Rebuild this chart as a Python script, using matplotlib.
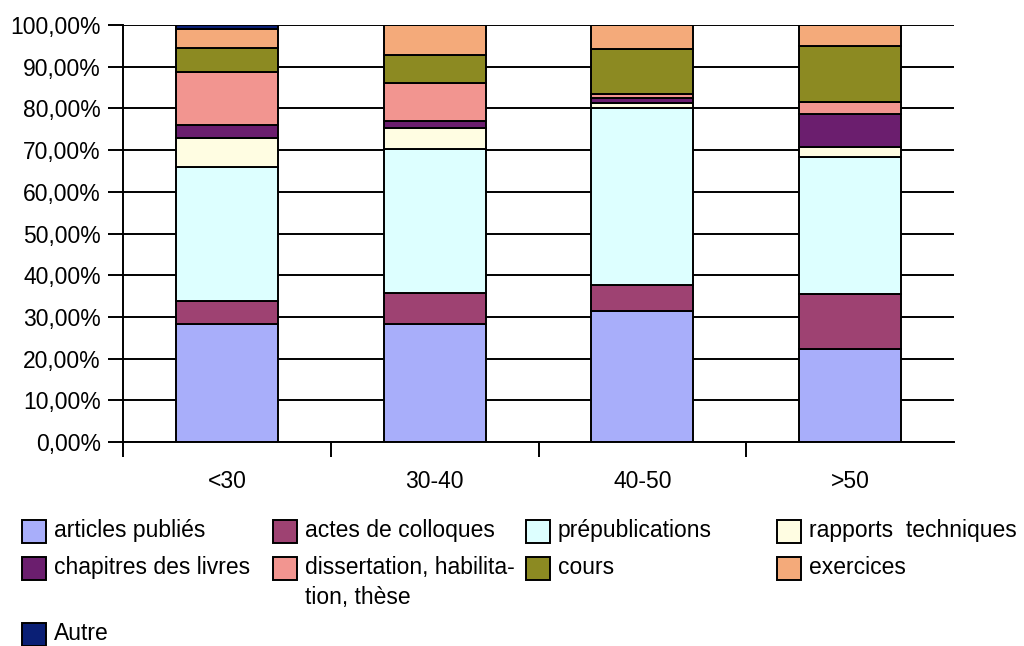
import matplotlib
matplotlib.use("Agg")
import matplotlib.pyplot as plt
from matplotlib.patches import Rectangle
from matplotlib.ticker import FixedLocator, FuncFormatter

plt.rcParams["font.family"] = ["Liberation Sans", "DejaVu Sans"]

# Données (en %)
groupes = ["<30", "30-40", "40-50", ">50"]
series = ["articles publiés", "actes de colloques", "prépublications",
          "rapports  techniques", "chapitres des livres",
          "dissertation, habilita-\ntion, thèse", "cours", "exercices", "Autre"]
articles = [28.3, 28.3, 31.4, 22.3]
actes = [5.5, 7.4, 6.2, 13.2]
prepub = [32.1, 34.5, 42.6, 32.9]
rapports = [7.1, 5.0, 1.0, 2.4]
chapitres = [2.9, 1.8, 1.2, 7.8]
dissertation = [12.9, 9.0, 1.0, 3.0]
cours = [5.6, 6.8, 10.8, 13.4]
exercices = [4.6, 7.2, 5.8, 5.0]
autre = [1.0, 0.0, 0.0, 0.0]
valeurs = [articles, actes, prepub, rapports, chapitres,
           dissertation, cours, exercices, autre]
couleurs = ["#A8AEFA", "#9E4272", "#DDFFFF", "#FFFDE2", "#6B1E6E",
            "#F29590", "#8C8A22", "#F4AA7A", "#0A1F75"]

FS = 16.5
W, H = 1024, 646
fig = plt.figure(figsize=(W / 100, H / 100), dpi=100)
ax = fig.add_axes([123 / W, 1 - 442 / H, (954 - 123) / W, (442 - 25) / H])

x = range(len(groupes))
bas = [0.0] * len(groupes)
for vals, col in zip(valeurs, couleurs):
    ax.bar(x, vals, width=0.49, bottom=bas, color=col, edgecolor="black",
           linewidth=1.4, zorder=3)
    bas = [b + v for b, v in zip(bas, vals)]

ax.set_xlim(-0.5, 3.5)
ax.set_ylim(0, 100)
ax.set_yticks(range(0, 101, 10))
ax.yaxis.set_major_formatter(FuncFormatter(lambda v, p: f"{v:.2f}%".replace(".", ",")))
ax.yaxis.grid(True, color="black", linewidth=1.4, zorder=0)
ax.tick_params(axis="y", direction="out", length=11, width=1.4, pad=5,
               labelsize=FS)

ax.set_xticks(list(x))
ax.set_xticklabels(groupes)
ax.tick_params(axis="x", which="major", length=0, pad=20, labelsize=FS)
ax.xaxis.set_minor_locator(FixedLocator([-0.5, 0.5, 1.5, 2.5]))
ax.tick_params(axis="x", which="minor", direction="out", length=11, width=1.4)

for s in ("top", "right"):
    ax.spines[s].set_visible(False)
for s in ("left", "bottom"):
    ax.spines[s].set_linewidth(1.4)
    ax.spines[s].set_zorder(4)

# Légende manuelle (4 colonnes, lignes alignées)
col_x = [22, 273, 526, 777]
row_y = [531, 568, 634]
places = [(0, 0), (0, 1), (0, 2), (0, 3), (1, 0), (1, 1), (1, 2), (1, 3), (2, 0)]
for lab, col, (r, c) in zip(series, couleurs, places):
    x0, yc = col_x[c], row_y[r]
    fig.patches.append(Rectangle((x0 / W, 1 - (yc + 11.5) / H), 24 / W, 23 / H,
                                 transform=fig.transFigure, facecolor=col,
                                 edgecolor="black", linewidth=1.4))
    fig.text((x0 + 32) / W, 1 - (yc - 12) / H, lab, fontsize=FS, va="top",
             ha="left", linespacing=1.4)

fig.savefig("out.png", dpi=100)
